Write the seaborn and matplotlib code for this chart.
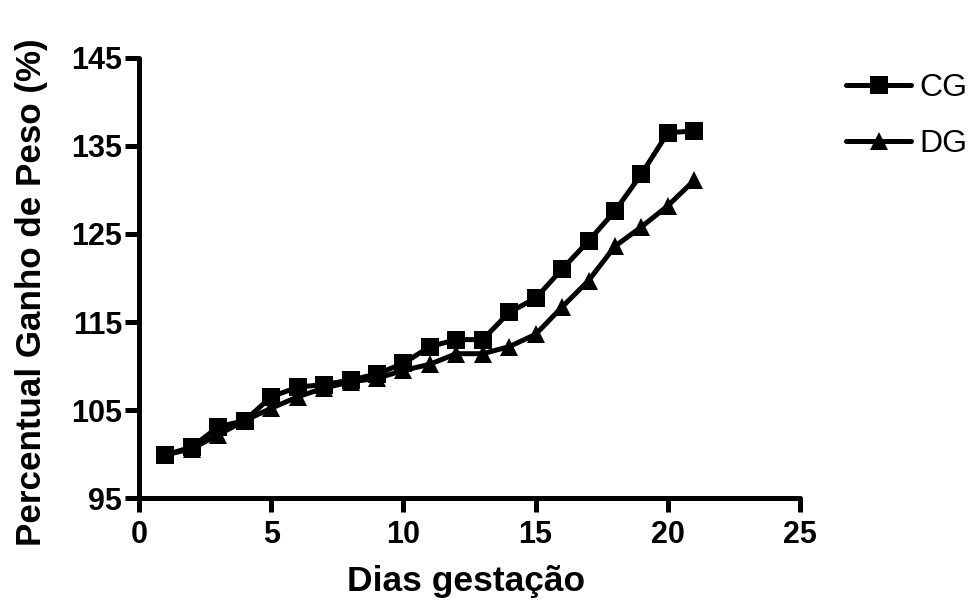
import matplotlib
matplotlib.use("Agg")
import matplotlib.pyplot as plt
import seaborn as sns
import pandas as pd

days = list(range(1, 22))
cg = [99.9, 100.8, 103.1, 103.8, 106.5, 107.6, 107.9, 108.4, 109.1, 110.3, 112.2,
      113.0, 113.0, 116.1, 117.7, 121.0, 124.2, 127.6, 131.8, 136.5, 136.7]
dg = [99.9, 100.6, 102.2, 103.8, 105.2, 106.5, 107.5, 108.2, 108.6, 109.5, 110.2,
      111.4, 111.4, 112.2, 113.6, 116.7, 119.7, 123.6, 125.8, 128.2, 131.1]
groups = ["CG", "DG"]
xticks = [0, 5, 10, 15, 20, 25]
yticks = [95, 105, 115, 125, 135, 145]

df = pd.DataFrame({
    "Dia": days * 2,
    "Valor": cg + dg,
    "Grupo": ["CG"] * len(days) + ["DG"] * len(days),
})

sns.set_style("ticks")
plt.rcParams["font.family"] = ["Liberation Sans", "DejaVu Sans"]
plt.rcParams["text.color"] = "black"
plt.rcParams["axes.labelcolor"] = "black"
plt.rcParams["xtick.color"] = "black"
plt.rcParams["ytick.color"] = "black"

fig = plt.figure(figsize=(9.74, 6.03), dpi=100)
ax = fig.add_axes([0.1427, 0.174, 0.6787, 0.730])

sns.lineplot(data=df, x="Dia", y="Valor", hue="Grupo", style="Grupo",
             markers={"CG": "s", "DG": "^"}, dashes=False,
             palette={"CG": "black", "DG": "black"},
             linewidth=3.6, markersize=13, markeredgewidth=0,
             ax=ax, legend=True)

ax.set_xlim(0, 25)
ax.set_ylim(95, 145)
ax.set_xticks(xticks)
ax.set_yticks(yticks)
ax.set_xticklabels([str(t) for t in xticks], fontsize=22, fontweight="bold")
ax.set_yticklabels([str(t) for t in yticks], fontsize=22, fontweight="bold")
ax.tick_params(axis="both", direction="out", length=10, width=3.6, color="black")
ax.tick_params(axis="x", pad=6)
ax.tick_params(axis="y", pad=2)
for s in ["top", "right"]:
    ax.spines[s].set_visible(False)
for s in ["left", "bottom"]:
    ax.spines[s].set_linewidth(3.6)
    ax.spines[s].set_color("black")
    ax.spines[s].set_capstyle("round")

ax.set_xlabel("Dias gestação", fontsize=25.5, fontweight="bold")
ax.set_ylabel("Percentual Ganho de Peso (%)", fontsize=25.2, fontweight="bold")
ax.xaxis.set_label_coords(0.495, -0.152)
ax.yaxis.set_label_coords(-0.138, 0.468)

handles, labels = ax.get_legend_handles_labels()
leg = ax.legend(handles, labels, loc="upper left", bbox_to_anchor=(1.07, 0.965),
                frameon=False, fontsize=23, handlelength=2.03, handletextpad=0.25,
                labelspacing=0.8, borderaxespad=0, borderpad=0)

fig.savefig("out.png", dpi=100)
